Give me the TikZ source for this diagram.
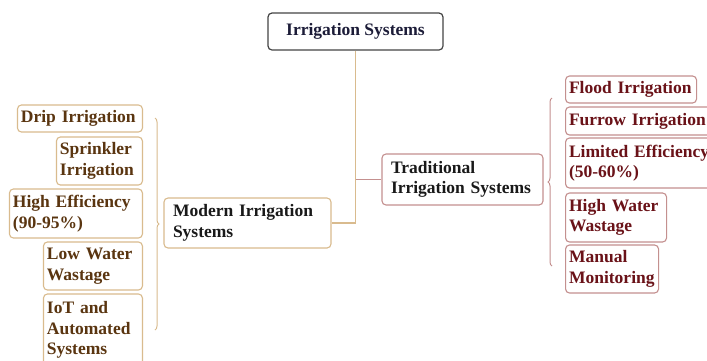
\documentclass[tikz,border=0pt]{standalone}
\usepackage{fontspec}
\setmainfont{Liberation Serif}
\usetikzlibrary{decorations.pathreplacing}
\definecolor{modline}{HTML}{D9BB8E}
\definecolor{modtext}{HTML}{5A3510}
\definecolor{tradline}{HTML}{C4908F}
\definecolor{tradtext}{HTML}{6A1218}
\definecolor{topline}{HTML}{444444}
\definecolor{toptext}{HTML}{1C1C38}
\tikzset{
  bx/.style={draw, rounded corners=4pt, line width=1.1pt,
    font={\fontsize{17.5}{20.5}\selectfont\bfseries\hyphenpenalty=10000\exhyphenpenalty=10000\spaceskip=0.25em\relax},
    align=left, inner xsep=3.5pt, inner ysep=2pt},
  modbox/.style={bx, draw=modline, text=modtext},
  tradbox/.style={bx, draw=tradline, text=tradtext},
  mainmod/.style={bx, draw=modline, text=black!90, inner xsep=9pt},
  maintrad/.style={bx, draw=tradline, text=black!90, inner xsep=9pt},
  topbox/.style={bx, draw=topline, text=toptext, align=center, line width=1.2pt},
  modconn/.style={draw=modline, line width=1.2pt},
  tradconn/.style={draw=tradline, line width=1.2pt},
}
\begin{document}
\begin{tikzpicture}[x=1pt,y=-1pt]
\useasboundingbox (0,0) rectangle (707,360);
\fill[white] (0,0) rectangle (707,360);
\clip (0,0) rectangle (707,360);

% top
\node[topbox, minimum width=175pt, minimum height=37pt] (top) at (355.5,31.5) {Irrigation Systems};

% main nodes
\node[mainmod, text width=149pt, minimum height=50pt] (modern) at (247.5,223) {Modern Irrigation\\Systems};
\node[maintrad, text width=143pt, minimum height=51pt] (trad) at (462.5,179.5) {Traditional\\Irrigation Systems};

% left column
\node[modbox, anchor=east, text width=118pt, minimum height=27pt] (drip) at (143,118.5) {Drip Irrigation};
\node[modbox, anchor=east, text width=79pt, minimum height=48pt] (sprink) at (143,161) {Sprinkler\\Irrigation};
\node[modbox, anchor=east, text width=126pt, minimum height=49pt] (higheff) at (143,213.5) {High Efficiency\\(90-95\%)};
\node[modbox, anchor=east, text width=92pt, minimum height=48pt] (lowwater) at (143,266) {Low Water\\Wastage};
\node[modbox, anchor=east, text width=92pt, minimum height=72pt] (iot) at (143,330) {IoT and\\Automated\\Systems};

% right column
\node[tradbox, anchor=west, text width=124pt, minimum height=27pt] (flood) at (565,89.5) {Flood Irrigation};
\node[tradbox, anchor=west, text width=144pt, minimum height=28pt] (furrow) at (565,121) {Furrow Irrigation};
\node[tradbox, anchor=west, text width=144pt, minimum height=50pt] (limeff) at (565,163) {Limited Efficiency\\(50-60\%)};
\node[tradbox, anchor=west, text width=94pt, minimum height=49pt] (highwater) at (565,217.5) {High Water\\Wastage};
\node[tradbox, anchor=west, text width=86pt, minimum height=48pt] (manual) at (565,269) {Manual\\Monitoring};

% connectors
\draw[tradconn] (top.south |- trad.west) -- (trad.west);
\draw[modconn] (top.south) |- (modern.east);

% braces
\coordinate (lbtop) at (155,118);
\coordinate (lbbot) at (155,330);
\coordinate (rbtop) at (552,98);
\coordinate (rbbot) at (552,266);
\draw[modconn, line width=1pt, decorate, decoration={brace, amplitude=4pt}] (lbtop) -- (lbbot);
\draw[tradconn, line width=1pt, decorate, decoration={brace, amplitude=4pt}] (rbbot) -- (rbtop);
\end{tikzpicture}
\end{document}
